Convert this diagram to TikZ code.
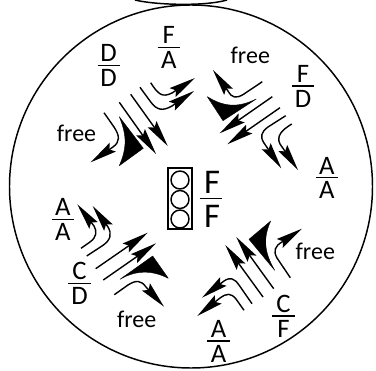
\documentclass[tikz,border=0pt]{standalone}
\usepackage{fontspec}
\setmainfont{Carlito}
\usetikzlibrary{arrows.meta}
\tikzset{
    flow/.style={line width=1.05pt, -{Stealth[length=20pt, width=8pt, inset=3pt]}},
    wedge/.style={fill=black, draw=black, line width=0.3pt, line join=round},
    frac/.style={font=\fontsize{20}{22}\selectfont, inner sep=0pt, align=center},
    bigfrac/.style={font=\fontsize{26}{28}\selectfont, inner sep=0pt},
    freelabel/.style={font=\fontsize{18}{20}\selectfont, inner sep=0pt},
    bar/.style={line width=1pt},
}
\begin{document}
\begin{tikzpicture}[x=0.75pt, y=-0.75pt, line width=1.1pt]
    \useasboundingbox (0,0) rectangle (376,371);
    \coordinate (centre) at (191,186.5);
    \draw (centre) circle (181.5*0.75pt);
    \draw (135,0) .. controls (155,5) and (205,6.5) .. (227,0);

    % signal
    \node[draw, minimum width=24*0.75pt, minimum height=61*0.75pt, inner sep=0pt] (signal) at (180,198.5) {};
    \foreach \y/\name in {180/top, 199.5/mid, 219/low}
        \node[draw, circle, minimum size=18*0.75pt, inner sep=0pt] (\name) at (180,\y) {};

    % fractions
    \draw[bar, line width=1.2pt] (199.7,198.3) -- (222.3,198.3);
    \node[bigfrac] (ffn) at (212,182.5) {F};
    \node[bigfrac] (ffd) at (212,216) {F};
    \foreach \x/\y/\num/\den/\name in {
        108.7/65.3/D/D/dd, 168.8/47.3/F/A/fa, 303/86/F/D/fd, 326.8/177.7/A/A/aane,
        62.8/219.3/A/A/aasw, 79.5/283.3/C/D/cd, 283.5/316/C/F/cf, 218.5/341/A/A/aase} {
        \draw[bar] (\x-11.2,\y) -- (\x+11.2,\y);
        \node[frac] (\name n) at (\x,\y-12) {\num};
        \node[frac] (\name d) at (\x,\y+12.7) {\den};
    }
    \node[freelabel] (freenw) at (76.5,133.5) {free};
    \node[freelabel] (freene) at (250.3,55) {free};
    \node[freelabel] (freesw) at (136.7,319.3) {free};
    \node[freelabel] (freese) at (315.3,251.7) {free};

    % north west
    \draw[flow] (119.3,102.3) -- (156,154);
    \draw[flow] (130.7,94.3) -- (167.7,146);
    \draw[flow] (104,112.7) -- (114,127) .. controls (120,136) and (120,142) .. (113,147) -- (90.7,162.3);
    \draw[wedge] (119.3,116.7) -- (143.3,148.3) -- (119.3,165.7) .. controls (126,150) and (128,138) .. cycle;
    \draw[flow] (150.7,82.7) .. controls (158,94) and (162,98) .. (172,93) -- (195,78);
    \draw[flow] (140,87.3) -- (150,101) .. controls (157,111) and (163,111) .. (172,106) -- (194,91);

    % north east
    \draw[flow] (262.3,81.7) -- (244,94) .. controls (236,99) and (232,98) .. (228,91) -- (213,70);
    \draw[wedge] (256.3,99) .. controls (238,108) and (224,107) .. (207.3,96.7) -- (223,120.7) -- cycle;
    \draw[flow] (272.3,96.7) -- (219.7,133.3);
    \draw[flow] (280,107.7) -- (227.3,144.3);
    \draw[flow] (285.7,115.7) -- (268,127) .. controls (261,132) and (260,137) .. (264,143) -- (281.3,168.3);
    \draw[flow] (291.7,124) .. controls (282,130) and (276,136) .. (280,144) -- (298,170);

    % south west
    \draw[flow] (81,248.3) -- (90,242) .. controls (97,237) and (97,231) .. (94,226) -- (77.3,204.3);
    \draw[flow] (86.7,256) -- (102,246) .. controls (111,240) and (112,234) .. (108,227) -- (92.7,206);
    \draw[flow] (95.7,268.7) -- (147.7,232.7);
    \draw[flow] (103.3,280) -- (156,243.3);
    \draw[wedge] (120,279.3) .. controls (136,270) and (152,270) .. (168.3,278.3) -- (152.7,256) -- cycle;
    \draw[flow] (114.3,294.7) -- (128,285) .. controls (136,280) and (141,280) .. (146,287) -- (164,306.7);

    % south east
    \draw[flow] (290.3,277.7) -- (277,258) .. controls (273,251) and (275,246) .. (282,242) -- (302,228.7);
    \draw[wedge] (274.7,270.3) .. controls (264,252) and (263,238) .. (270.7,221) -- (249,239.3) -- cycle;
    \draw[flow] (273.7,288.7) -- (236.3,237);
    \draw[flow] (263,297) -- (225.3,245);
    \draw[flow] (252,303.7) -- (239,285) .. controls (234,278) and (230,277) .. (224,281) -- (202,297.7);
    \draw[flow] (244,310.3) -- (236,299) .. controls (231,293) and (227,293) .. (220,298) -- (197.3,316);
\end{tikzpicture}
\end{document}
